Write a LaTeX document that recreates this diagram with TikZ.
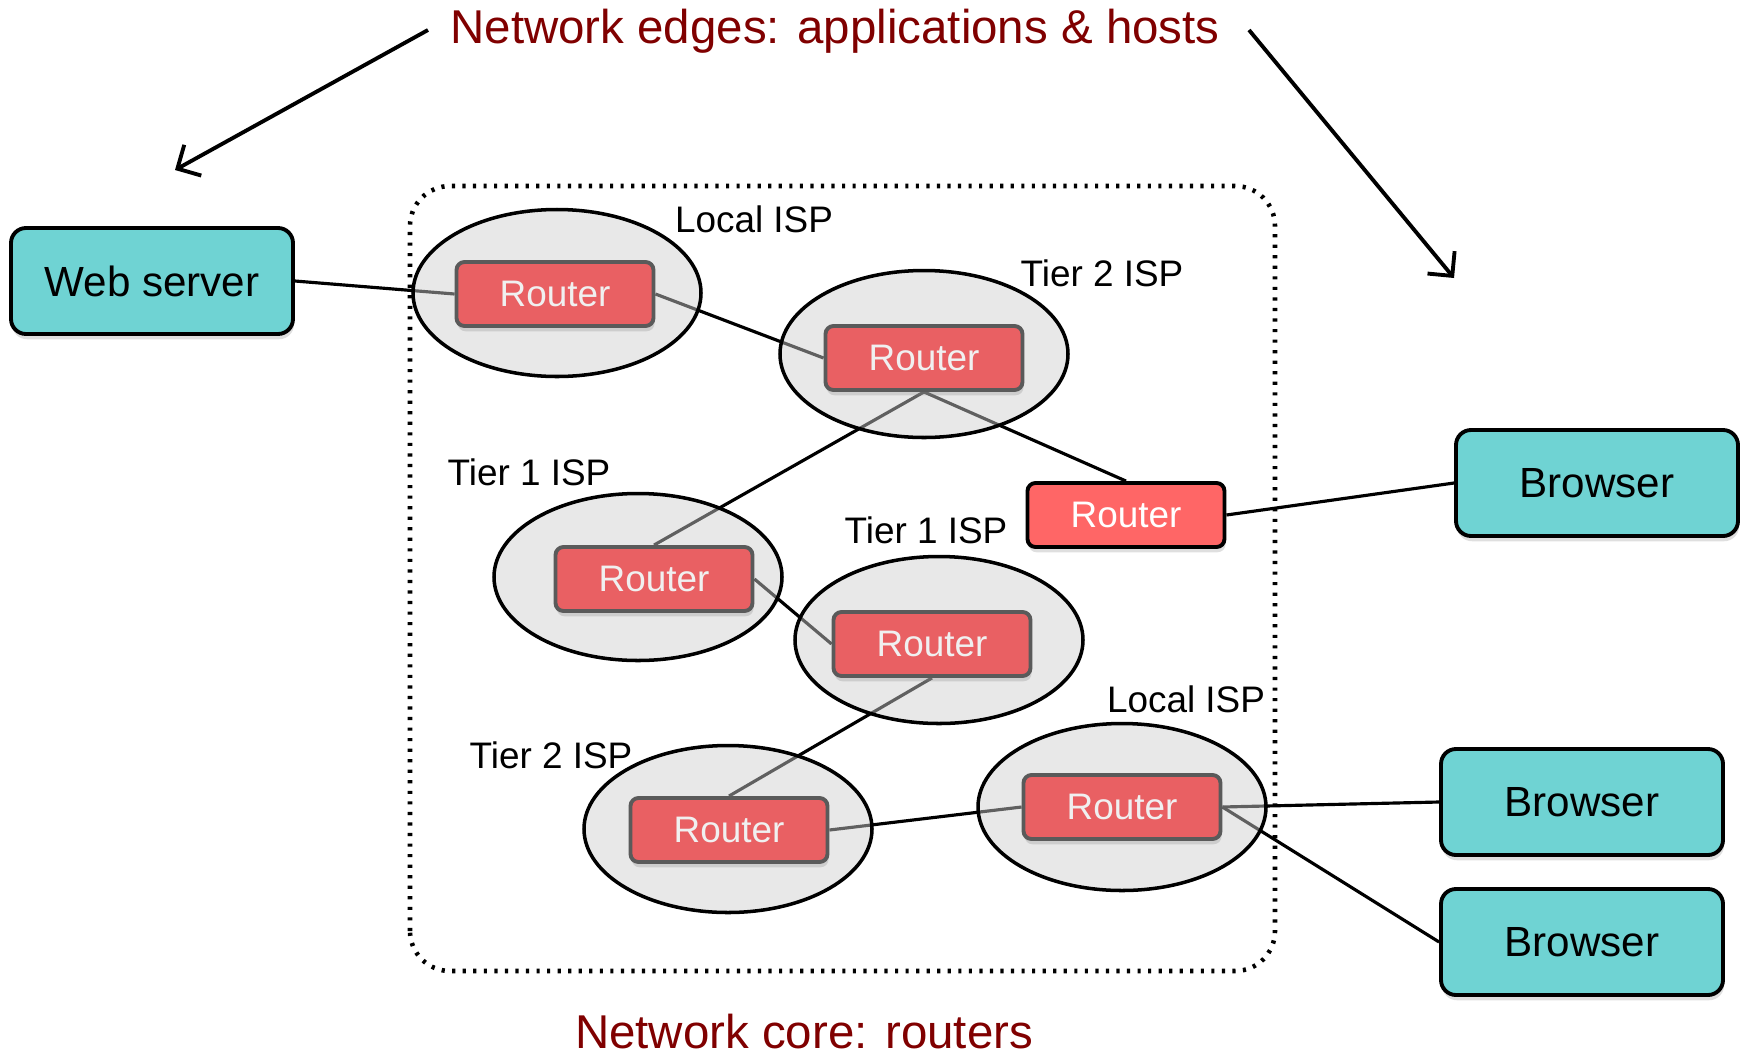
\documentclass[tikz,border=0pt]{standalone}
\usepackage{fontspec}
\setmainfont{Liberation Sans}
\usetikzlibrary{shapes.geometric,shadows,arrows.meta}
\definecolor{hostteal}{RGB}{111,211,211}
\definecolor{routerred}{RGB}{233,96,99}
\definecolor{routerhot}{RGB}{255,102,102}
\definecolor{routeredge}{RGB}{90,90,90}
\definecolor{routertext}{RGB}{240,240,240}
\definecolor{ispgray}{RGB}{206,206,206}
\definecolor{titlered}{RGB}{128,0,0}
\pgfdeclarelayer{back}
\pgfdeclarelayer{mid}
\pgfsetlayers{back,mid,main}
\tikzset{
  host/.style={draw=black, line width=1.1pt, fill=hostteal, rounded corners=0.15cm,
    minimum width=2.82cm, minimum height=1.06cm, font=\fontsize{12}{14}\selectfont,
    drop shadow={opacity=0.25, shadow xshift=0.3pt, shadow yshift=-1.5pt}},
  router/.style={draw=routeredge, line width=1.1pt, fill=routerred, text=routertext,
    rounded corners=0.08cm, minimum width=1.97cm, minimum height=0.64cm,
    font=\fontsize{10.5}{12}\selectfont,
    drop shadow={opacity=0.25, shadow xshift=0.3pt, shadow yshift=-1.5pt}},
  edgerouter/.style={router, draw=black, fill=routerhot, text=white},
  isp/.style={ellipse, draw=black, line width=1pt, fill=ispgray, fill opacity=0.47,
    draw opacity=1, minimum width=2.88cm, minimum height=1.67cm, inner sep=0pt},
  isplabel/.style={font=\fontsize{10.5}{12}\selectfont},
  link/.style={line width=0.9pt},
  pointer/.style={line width=1.1pt, -{Straight Barb[length=5pt,width=10pt]}},
  heading/.style={text=titlered, font=\fontsize{13.5}{16}\selectfont}
}
\begin{document}
\begin{tikzpicture}
\useasboundingbox (0,0) rectangle (17.46,10.55);
\node[heading] (edges) at (8.35,10.24) {Network edges: applications \& hosts};
\node[heading] (core) at (8.04,0.23) {Network core: routers};
\coordinate (edgesl) at (4.28,10.25);
\coordinate (edgesr) at (12.49,10.25);
\coordinate (tipl) at (1.75,8.85);
\coordinate (tipr) at (14.54,7.77);
\draw[pointer] (edgesl) -- (tipl);
\draw[pointer] (edgesr) -- (tipr);
\node[host] (web) at (1.52,7.74) {Web server};
\node[host] (browser1) at (15.97,5.72) {Browser};
\node[host] (browser2) at (15.82,2.53) {Browser};
\node[host] (browser3) at (15.82,1.13) {Browser};
\node[router] (router1) at (5.55,7.61) {Router};
\node[router] (router2) at (9.24,6.97) {Router};
\node[router] (router3) at (6.54,4.76) {Router};
\node[router] (router4) at (9.32,4.11) {Router};
\node[router] (router5) at (7.29,2.25) {Router};
\node[router] (router6) at (11.22,2.48) {Router};
\node[edgerouter] (router7) at (11.26,5.40) {Router};
\node[isplabel] (local1) at (7.54,8.36) {Local ISP};
\node[isplabel] (tiertwo1) at (11.02,7.82) {Tier 2 ISP};
\node[isplabel] (tierone1) at (5.29,5.83) {Tier 1 ISP};
\node[isplabel] (tierone2) at (9.26,5.25) {Tier 1 ISP};
\node[isplabel] (tiertwo2) at (5.51,3.00) {Tier 2 ISP};
\node[isplabel] (local2) at (11.86,3.56) {Local ISP};
\begin{pgfonlayer}{mid}
\node[isp] (isp1) at (5.57,7.62) {};
\node[isp] (isp2) at (9.24,7.01) {};
\node[isp] (isp3) at (6.38,4.78) {};
\node[isp] (isp4) at (9.39,4.15) {};
\node[isp] (isp5) at (7.28,2.26) {};
\node[isp] (isp6) at (11.22,2.48) {};
\end{pgfonlayer}
\begin{pgfonlayer}{back}
\draw[line width=1.3pt, dash pattern=on 0.9pt off 2.1pt, rounded corners=0.4cm]
  (4.10,0.84) rectangle (12.75,8.69);
\draw[link] (web.east) -- (router1.west);
\draw[link] (router1.east) -- (router2.west);
\draw[link] (router2.south) -- (router3.north);
\draw[link] (router2.south) -- (router7.north);
\draw[link] (router7.east) -- (browser1.west);
\draw[link] (router3.east) -- (router4.west);
\draw[link] (router4.south) -- (router5.north);
\draw[link] (router5.east) -- (router6.west);
\draw[link] (router6.east) -- (browser2.west);
\draw[link] (router6.east) -- (browser3.west);
\end{pgfonlayer}
\end{tikzpicture}
\end{document}
